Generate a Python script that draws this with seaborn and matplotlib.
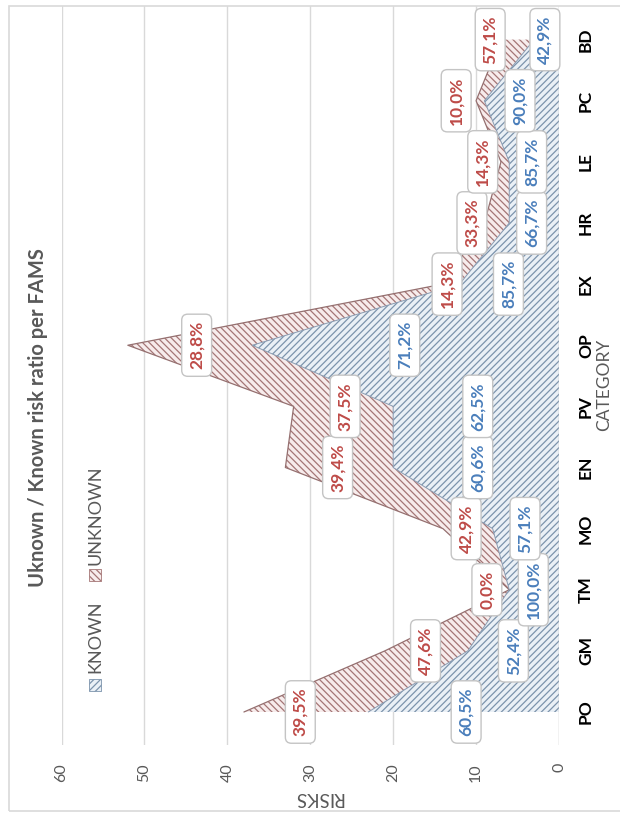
import matplotlib
matplotlib.use("Agg")
import matplotlib.pyplot as plt
from matplotlib.patches import Rectangle
import numpy as np
import seaborn as sns

# ---- data -------------------------------------------------------------
categories = ["PO", "GM", "TM", "MO", "EN", "PV", "OP", "EX", "HR", "LE", "PC", "BD"]
known = [23, 11, 6, 8, 20, 20, 37, 12, 6, 6, 9, 3]
unknown = [15, 10, 0, 6, 13, 12, 15, 2, 3, 1, 1, 4]
value_ticks = [0, 10, 20, 30, 40, 50, 60]

# value-axis anchor of each data label
known_label_at = [11.2, 5.5, 3.1, 4.1, 9.8, 9.8, 18.6, 6.1, 3.3, 3.3, 4.7, 1.7]
unknown_label_at = [31.2, 16.1, 8.7, 11.2, 26.7, 25.8, 43.7, 13.5, 10.5, 9.2, 12.4, 8.3]

# ---- style ------------------------------------------------------------
sns.set_theme(style="white")
plt.rcParams["font.family"] = ["Lato", "DejaVu Sans"]
plt.rcParams["hatch.linewidth"] = 0.9

W, H = 620, 814
BLUE_TXT = "#4A7EBB"
RED_TXT = "#BE4B48"
BLUE_FILL = "#EAF0F6"
BLUE_HATCH = "#7C93AC"
RED_FILL = "#F7ECEC"
RED_HATCH = "#A57676"
GRAY_TXT = "#595959"
GRID = "#D9D9D9"


def fx(x):
    return x / W


def fy(y):
    return 1 - y / H


fig = plt.figure(figsize=(W / 100, H / 100), dpi=100)
fig.patch.set_facecolor("white")

# chart frame
fig.add_artist(Rectangle((fx(9), fy(811)), fx(640) - fx(9), fy(6) - fy(811),
                         transform=fig.transFigure, fill=False,
                         edgecolor=GRID, linewidth=1.2))

left, right, top, bottom = 61.5, 559, 6, 745
ax = fig.add_axes([fx(left), fy(bottom), fx(right) - fx(left), fy(top) - fy(bottom)])
ax.set_facecolor("none")

idx = np.arange(len(categories))
k = np.array(known, dtype=float)
total = k + np.array(unknown, dtype=float)

# stacked areas: KNOWN at the base, UNKNOWN on top of it
ax.fill_betweenx(idx, k, total, facecolor=RED_FILL, edgecolor="none", zorder=2)
ax.fill_betweenx(idx, k, total, facecolor="none", edgecolor=RED_HATCH,
                 hatch="\\\\\\\\\\", linewidth=0, zorder=2.1)
ax.fill_betweenx(idx, 0, k, facecolor=BLUE_FILL, edgecolor="none", zorder=2)
ax.fill_betweenx(idx, 0, k, facecolor="none", edgecolor=BLUE_HATCH,
                 hatch="/////", linewidth=0, zorder=2.1)

# outlines of the two series
sns.lineplot(x=total, y=idx, orient="y", sort=False, color="#957070",
             linewidth=0.9, ax=ax, zorder=3)
sns.lineplot(x=k, y=idx, orient="y", sort=False, color="#8A9CB2",
             linewidth=0.7, ax=ax, zorder=3)

ax.set_xlim(60, 0)
ax.set_ylim(-0.54, 11.55)

# value gridlines
for v in value_ticks[1:]:
    ax.axvline(v, color=GRID, linewidth=1.0, zorder=1)
ax.axvline(0, color="#BFBFBF", linewidth=1.0, zorder=4)

for s in ax.spines.values():
    s.set_visible(False)

ax.set_xticks(value_ticks)
ax.set_xticklabels([str(v) for v in value_ticks])
ax.tick_params(axis="x", length=0, pad=13, labelrotation=90,
               labelsize=11.5, labelcolor=GRAY_TXT)
ax.set_yticks(idx)
ax.set_yticklabels([])
ax.tick_params(axis="y", length=0)
ax.set_xlabel("")
ax.set_ylabel("")

# category names along the right-hand axis
for i, c in enumerate(categories):
    ax.text(1.0 + 27 / (right - left), i, c, transform=ax.get_yaxis_transform(),
            rotation=90, ha="center", va="center", fontsize=12.5,
            fontweight="bold", color="black")

# data labels
def pct(a, b):
    return f"{100 * a / b:.1f}".replace(".", ",") + "%"


box = dict(boxstyle="round,pad=0.4,rounding_size=0.35", facecolor="white",
           edgecolor="#C4C4C4", linewidth=1.0)
for i in idx:
    ax.text(unknown_label_at[i], i, pct(unknown[i], total[i]), rotation=90,
            ha="center", va="center", fontsize=12.5, fontweight="bold",
            color=RED_TXT, bbox=box, zorder=6)
    ax.text(known_label_at[i], i, pct(known[i], total[i]), rotation=90,
            ha="center", va="center", fontsize=12.5, fontweight="bold",
            color=BLUE_TXT, bbox=box, zorder=6)

# axis titles
fig.text(fx(318), fy(798), "RISKS", rotation=180, ha="center", va="center",
         fontsize=13.5, color=GRAY_TXT)
fig.text(fx(604), fy(385), "CATEGORY", rotation=90, ha="center", va="center",
         fontsize=12.5, color=GRAY_TXT)

# chart title
fig.text(fx(38), fy(418), "Uknown / Known risk ratio per FAMS", rotation=90,
         ha="center", va="center", fontsize=14.5, fontweight="bold",
         color=GRAY_TXT)

# legend
def legend_item(y, fill, hatch_color, hatch, label, text_y):
    fig.add_artist(Rectangle((fx(89), fy(y + 6)), fx(12), fy(0) - fy(12),
                             transform=fig.transFigure, facecolor=fill,
                             edgecolor=hatch_color, hatch=hatch, linewidth=0.6))
    fig.text(fx(95), fy(text_y), label, rotation=90, ha="center", va="center",
             fontsize=13, color=GRAY_TXT)


legend_item(685, BLUE_FILL, BLUE_HATCH, "/////", "KNOWN", 637)
legend_item(575, RED_FILL, RED_HATCH, "\\\\\\\\\\", "UNKNOWN", 515)

fig.savefig("out.png", dpi=100, facecolor="white")
